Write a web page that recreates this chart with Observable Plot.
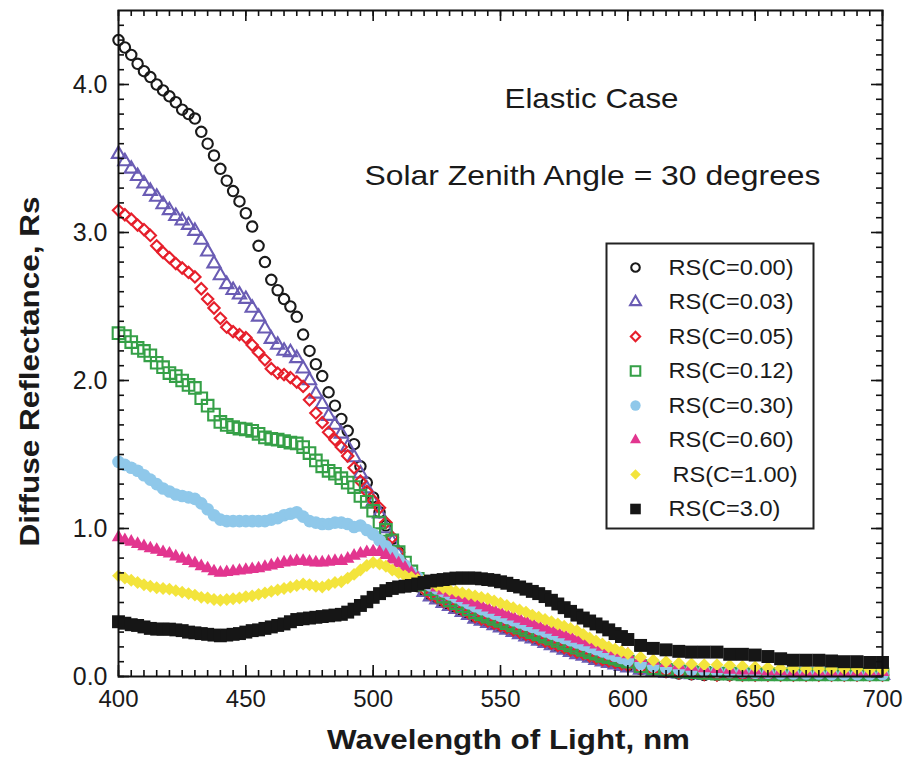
<!DOCTYPE html>
<html>
<head>
<meta charset="utf-8">
<script src="https://cdn.jsdelivr.net/npm/d3@7"></script>
<script src="https://cdn.jsdelivr.net/npm/@observablehq/plot@0.6"></script>
<style>
  body { margin: 0; background: #fff; }
  #chart { width: 911px; height: 761px; }
</style>
</head>
<body>
<div id="chart"></div>
<script>
// ---------------- DATA ----------------
const wavelengths = [
  400, 402.5, 405, 407.5, 410, 412.5, 415, 417.5, 420,
  422.5, 425, 427.5, 430, 432.5, 435, 437.5, 440,
  442.5, 445, 447.5, 450, 452.5, 455, 457.5, 460,
  462.5, 465, 467.5, 470, 472.5, 475, 477.5, 480,
  482.5, 485, 487.5, 490, 492.5, 495, 497.5, 500,
  502.5, 505, 507.5, 510, 512.5, 515, 517.5, 520,
  522.5, 525, 527.5, 530, 532.5, 535, 537.5, 540,
  542.5, 545, 547.5, 550, 552.5, 555, 557.5, 560,
  562.5, 565, 567.5, 570, 572.5, 575, 577.5, 580,
  582.5, 585, 587.5, 590, 592.5, 595, 597.5, 600,
  605, 610, 615, 620, 625, 630, 635, 640, 645, 650,
  655, 660, 665, 670, 675, 680, 685, 690, 695, 700
];

const rsC000 = [
  4.30, 4.25, 4.20, 4.14, 4.09, 4.05, 4.00, 3.96, 3.92,
  3.88, 3.83, 3.80, 3.77, 3.68, 3.60, 3.52, 3.43,
  3.35, 3.28, 3.21, 3.13, 3.04, 2.91, 2.80, 2.68,
  2.61, 2.55, 2.50, 2.43, 2.31, 2.20, 2.11, 2.03,
  1.92, 1.83, 1.74, 1.66, 1.57, 1.42, 1.31, 1.21,
  1.11, 1.02, 0.93, 0.84, 0.74, 0.66, 0.61, 0.58,
  0.55, 0.53, 0.505, 0.485, 0.465, 0.445, 0.425, 0.40,
  0.385, 0.37, 0.355, 0.34, 0.325, 0.31, 0.295, 0.28,
  0.265, 0.25, 0.235, 0.22, 0.205, 0.19, 0.175, 0.16,
  0.15, 0.135, 0.12, 0.11, 0.10, 0.09, 0.08, 0.07,
  0.05, 0.04, 0.03, 0.02, 0.015, 0.01, 0.01, 0.01, 0.01, 0.01,
  0.01, 0.01, 0.01, 0.01, 0.01, 0.01, 0.01, 0.01, 0.01, 0.01
];

const rsC003 = [
  3.53, 3.48, 3.43, 3.38, 3.33, 3.28, 3.24, 3.19, 3.15,
  3.11, 3.08, 3.05, 3.01, 2.95, 2.87, 2.79, 2.71,
  2.65, 2.61, 2.58, 2.55, 2.49, 2.43, 2.35, 2.28,
  2.24, 2.20, 2.19, 2.15, 2.08, 2.00, 1.91, 1.84,
  1.76, 1.70, 1.64, 1.55, 1.48, 1.37, 1.27, 1.18,
  1.10, 1.00, 0.91, 0.82, 0.73, 0.66, 0.61, 0.57,
  0.54, 0.52, 0.495, 0.475, 0.455, 0.435, 0.415, 0.39,
  0.375, 0.36, 0.345, 0.33, 0.315, 0.30, 0.285, 0.27,
  0.255, 0.24, 0.225, 0.21, 0.195, 0.18, 0.165, 0.15,
  0.14, 0.125, 0.11, 0.10, 0.09, 0.08, 0.07, 0.06,
  0.045, 0.035, 0.025, 0.02, 0.015, 0.01, 0.01, 0.01, 0.01, 0.01,
  0.01, 0.01, 0.01, 0.01, 0.01, 0.01, 0.01, 0.01, 0.01, 0.01
];

const rsC005 = [
  3.15, 3.12, 3.09, 3.05, 3.02, 2.98, 2.91, 2.865, 2.83,
  2.79, 2.76, 2.73, 2.70, 2.62, 2.55, 2.49, 2.42,
  2.36, 2.33, 2.31, 2.29, 2.24, 2.19, 2.14, 2.08,
  2.05, 2.04, 2.02, 1.99, 1.96, 1.87, 1.78, 1.715,
  1.65, 1.60, 1.55, 1.49, 1.41, 1.32, 1.25, 1.19,
  1.14, 1.04, 0.94, 0.84, 0.75, 0.67, 0.62, 0.59,
  0.555, 0.535, 0.51, 0.49, 0.47, 0.45, 0.43, 0.405,
  0.39, 0.375, 0.36, 0.345, 0.33, 0.315, 0.30, 0.285,
  0.27, 0.255, 0.24, 0.225, 0.21, 0.195, 0.18, 0.165,
  0.155, 0.14, 0.125, 0.115, 0.105, 0.095, 0.085, 0.075,
  0.055, 0.045, 0.035, 0.025, 0.02, 0.015, 0.01, 0.01, 0.01, 0.01,
  0.01, 0.01, 0.01, 0.01, 0.01, 0.01, 0.01, 0.01, 0.01, 0.01
];

const rsC012 = [
  2.32, 2.30, 2.26, 2.22, 2.20, 2.17, 2.12, 2.09, 2.05,
  2.03, 2.00, 1.97, 1.95, 1.88, 1.83, 1.77, 1.72,
  1.70, 1.685, 1.675, 1.67, 1.66, 1.64, 1.615, 1.605,
  1.60, 1.59, 1.58, 1.575, 1.55, 1.51, 1.46, 1.42,
  1.39, 1.37, 1.34, 1.31, 1.28, 1.22, 1.18, 1.12,
  1.04, 0.99, 0.92, 0.84, 0.77, 0.71, 0.66, 0.62,
  0.59, 0.565, 0.54, 0.515, 0.495, 0.475, 0.455, 0.435,
  0.42, 0.405, 0.39, 0.375, 0.36, 0.345, 0.33, 0.315,
  0.30, 0.285, 0.27, 0.255, 0.24, 0.225, 0.21, 0.195,
  0.18, 0.165, 0.155, 0.14, 0.13, 0.12, 0.11, 0.10,
  0.07, 0.055, 0.045, 0.035, 0.03, 0.025, 0.02, 0.02, 0.015, 0.015,
  0.015, 0.015, 0.015, 0.015, 0.015, 0.015, 0.015, 0.015, 0.015, 0.015
];

const rsC030 = [
  1.45, 1.43, 1.41, 1.39, 1.36, 1.33, 1.30, 1.27, 1.25,
  1.23, 1.22, 1.21, 1.20, 1.17, 1.13, 1.09, 1.06,
  1.05, 1.05, 1.05, 1.05, 1.05, 1.05, 1.05, 1.06,
  1.07, 1.09, 1.10, 1.11, 1.08, 1.05, 1.04, 1.03,
  1.03, 1.04, 1.04, 1.03, 1.01, 1.02, 0.99, 0.96,
  0.92, 0.88, 0.84, 0.79, 0.75, 0.70, 0.67, 0.64,
  0.615, 0.595, 0.575, 0.555, 0.535, 0.515, 0.495, 0.475,
  0.455, 0.44, 0.425, 0.41, 0.395, 0.38, 0.365, 0.35,
  0.335, 0.32, 0.305, 0.29, 0.275, 0.26, 0.245, 0.23,
  0.215, 0.20, 0.185, 0.17, 0.155, 0.14, 0.125, 0.11,
  0.085, 0.07, 0.06, 0.05, 0.045, 0.04, 0.035, 0.03, 0.03, 0.025,
  0.025, 0.02, 0.02, 0.02, 0.02, 0.015, 0.015, 0.015, 0.015, 0.015
];

const rsC060 = [
  0.94, 0.92, 0.91, 0.895, 0.88, 0.865, 0.855, 0.84, 0.83,
  0.81, 0.795, 0.78, 0.765, 0.745, 0.73, 0.71, 0.70,
  0.705, 0.71, 0.715, 0.72, 0.725, 0.73, 0.74, 0.75,
  0.76, 0.77, 0.775, 0.78, 0.78, 0.775, 0.77, 0.77,
  0.775, 0.78, 0.78, 0.795, 0.815, 0.83, 0.84, 0.845,
  0.84, 0.82, 0.79, 0.765, 0.735, 0.70, 0.665, 0.635,
  0.615, 0.60, 0.58, 0.565, 0.55, 0.53, 0.515, 0.50,
  0.48, 0.465, 0.45, 0.435, 0.42, 0.405, 0.39, 0.375,
  0.36, 0.345, 0.33, 0.315, 0.30, 0.285, 0.27, 0.255,
  0.245, 0.23, 0.215, 0.20, 0.185, 0.17, 0.16, 0.15,
  0.125, 0.105, 0.09, 0.075, 0.065, 0.055, 0.05, 0.045, 0.04, 0.04,
  0.035, 0.035, 0.03, 0.03, 0.03, 0.03, 0.03, 0.03, 0.03, 0.03
];

const rsC100 = [
  0.68, 0.665, 0.65, 0.635, 0.62, 0.61, 0.60, 0.595, 0.59,
  0.58, 0.57, 0.56, 0.55, 0.535, 0.53, 0.52, 0.515,
  0.52, 0.525, 0.53, 0.54, 0.545, 0.555, 0.565, 0.575,
  0.585, 0.595, 0.605, 0.615, 0.625, 0.62, 0.61, 0.605,
  0.62, 0.635, 0.64, 0.665, 0.69, 0.72, 0.75, 0.77,
  0.76, 0.745, 0.72, 0.70, 0.68, 0.67, 0.655, 0.645,
  0.63, 0.615, 0.60, 0.585, 0.575, 0.565, 0.555, 0.545,
  0.535, 0.525, 0.51, 0.495, 0.48, 0.465, 0.45, 0.435,
  0.415, 0.40, 0.385, 0.37, 0.355, 0.34, 0.325, 0.31,
  0.285, 0.26, 0.24, 0.22, 0.20, 0.185, 0.17, 0.155,
  0.13, 0.11, 0.10, 0.09, 0.085, 0.08, 0.08, 0.075, 0.07, 0.065,
  0.06, 0.055, 0.055, 0.05, 0.05, 0.05, 0.05, 0.05, 0.045, 0.045
];

const rsC300 = [
  0.37, 0.36, 0.35, 0.345, 0.335, 0.325, 0.32, 0.32, 0.32,
  0.315, 0.31, 0.30, 0.295, 0.29, 0.285, 0.28, 0.275,
  0.28, 0.285, 0.29, 0.30, 0.31, 0.315, 0.325, 0.335,
  0.345, 0.355, 0.37, 0.385, 0.39, 0.395, 0.40, 0.405,
  0.41, 0.415, 0.42, 0.435, 0.455, 0.48, 0.505, 0.535,
  0.56, 0.58, 0.595, 0.605, 0.61, 0.615, 0.625, 0.635,
  0.645, 0.65, 0.655, 0.66, 0.665, 0.665, 0.665, 0.665,
  0.66, 0.655, 0.65, 0.64, 0.63, 0.615, 0.605, 0.59,
  0.575, 0.56, 0.54, 0.515, 0.49, 0.465, 0.44, 0.415,
  0.395, 0.375, 0.355, 0.335, 0.315, 0.29, 0.27, 0.25,
  0.21, 0.19, 0.18, 0.17, 0.165, 0.165, 0.165, 0.15, 0.15, 0.145,
  0.135, 0.12, 0.11, 0.11, 0.11, 0.105, 0.10, 0.10, 0.095, 0.095
];

const seriesNames = ["RS(C=0.00)", "RS(C=0.03)", "RS(C=0.05)", "RS(C=0.12)",
                     "RS(C=0.30)", "RS(C=0.60)", "RS(C=1.00)", "RS(C=3.0)"];
const seriesValues = [rsC000, rsC003, rsC005, rsC012, rsC030, rsC060, rsC100, rsC300];

const xTickLabels = [400, 450, 500, 550, 600, 650, 700];
const yTickLabels = [0, 1, 2, 3, 4];

// ---------------- STYLES ----------------
const seriesStyles = [
  {symbol: "circle",    r: 5.2, stroke: "#1a1a1a", fill: "none",    strokeWidth: 2.1},
  {symbol: "triangle2", r: 6.3, stroke: "#6a5cb4", fill: "none",    strokeWidth: 2.1},
  {symbol: "diamond2",  r: 5.1, stroke: "#e61f2b", fill: "none",    strokeWidth: 2.1},
  {symbol: "square2",   r: 7.4, stroke: "#35a047", fill: "none",    strokeWidth: 2.1},
  {symbol: "circle",    r: 6.3, stroke: "none",    fill: "#8fc8ea", strokeWidth: 0},
  {symbol: "triangle",  r: 5.0, stroke: "none",    fill: "#e2358f", strokeWidth: 0},
  {symbol: "diamond2",  r: 5.8, stroke: "none",    fill: "#f3e43c", strokeWidth: 0},
  {symbol: "square",    r: 7.3, stroke: "none",    fill: "#161616", strokeWidth: 0}
];

// ---------------- LAYOUT ----------------
const W = 911, H = 761;
const mL = 118, mR = 29, mT = 10, mB = 85;
const innerW = W - mL - mR, innerH = H - mT - mB;

const yMinor = d3.range(0, 45).map(i => i / 10);
const xMinor = d3.range(400, 701, 5);
const xMajor = xTickLabels;
const yMajor = yTickLabels;

const tickStyle = {stroke: "#111", strokeWidth: 1.6};
const ink = "#1a1a1a";

const marks = [];

// data
seriesNames.forEach((name, i) => {
  const rows = wavelengths.map((w, j) => ({series: name, wl: w, rs: seriesValues[i][j]}));
  const s = seriesStyles[i];
  marks.push(Plot.dot(rows, {x: "wl", y: "rs", symbol: () => s.symbol, r: s.r,
    stroke: s.stroke, fill: s.fill, strokeWidth: s.strokeWidth}));
});

// inward ticks on all four sides
marks.push(Plot.tickY(yMinor, {y: d => d, insetRight: innerW - 6, ...tickStyle}));
marks.push(Plot.tickY(yMajor, {y: d => d, insetRight: innerW - 11, ...tickStyle}));
marks.push(Plot.tickY(yMinor, {y: d => d, insetLeft: innerW - 6, ...tickStyle}));
marks.push(Plot.tickY(yMajor, {y: d => d, insetLeft: innerW - 11, ...tickStyle}));
marks.push(Plot.tickX(xMinor, {x: d => d, insetTop: innerH - 6, ...tickStyle}));
marks.push(Plot.tickX(xMajor, {x: d => d, insetTop: innerH - 11, ...tickStyle}));
marks.push(Plot.tickX(xMinor, {x: d => d, insetBottom: innerH - 6, ...tickStyle}));
marks.push(Plot.tickX(xMajor, {x: d => d, insetBottom: innerH - 11, ...tickStyle}));

marks.push(Plot.frame({stroke: "#111", strokeWidth: 2}));

// axes labels
marks.push(Plot.axisX({ticks: xTickLabels, tickSize: 0, tickPadding: 13, tickFormat: d => String(d),
  fontSize: 24, label: null, fill: ink}));
marks.push(Plot.axisY({ticks: yTickLabels, tickSize: 0, tickPadding: 11, tickFormat: d => d.toFixed(1),
  fontSize: 25, label: null, fill: ink}));

marks.push(Plot.text(["Wavelength of Light, nm"], {text: d => d, frameAnchor: "bottom",
  textAnchor: "middle", lineAnchor: "middle",
  dx: 8, dy: 64, fontSize: 28, fontWeight: "bold", fill: ink}));
marks.push(Plot.text(["Diffuse Reflectance, Rs"], {text: d => d, frameAnchor: "left",
  textAnchor: "middle", lineAnchor: "middle",
  dx: -88, dy: 28, rotate: -90, fontSize: 28, fontWeight: "bold", fill: ink}));

// annotations
marks.push(Plot.text(["Elastic Case"], {text: d => d, frameAnchor: "top-left",
  textAnchor: "middle", lineAnchor: "middle",
  dx: 591 - mL, dy: 99 - mT, fontSize: 28, fill: ink}));
marks.push(Plot.text(["Solar Zenith Angle = 30 degrees"], {text: d => d, frameAnchor: "top-left",
  textAnchor: "middle", lineAnchor: "middle",
  dx: 592 - mL, dy: 176 - mT, fontSize: 28, fill: ink}));

// legend box
marks.push(Plot.frame({insetLeft: 606 - mL, insetTop: 243 - mT, insetRight: W - mR - 813,
  insetBottom: H - mB - 528, stroke: "#222", strokeWidth: 2, fill: "white"}));
seriesNames.forEach((name, i) => {
  const s = seriesStyles[i];
  const cy = 267 + i * 34.5;
  marks.push(Plot.dot([name], {frameAnchor: "top-left", dx: 635 - mL, dy: cy - mT,
    symbol: () => s.symbol, r: s.r * 0.82, stroke: s.stroke, fill: s.fill, strokeWidth: s.strokeWidth}));
  marks.push(Plot.text([name], {text: d => d, frameAnchor: "top-left", dx: (i === 6 ? 672 : 668) - mL,
    dy: cy - mT, textAnchor: "start", lineAnchor: "middle", fontSize: 22, fill: ink}));
});

const chart = Plot.plot({
  width: W, height: H,
  marginLeft: mL, marginRight: mR, marginTop: mT, marginBottom: mB,
  x: {domain: [400, 700]},
  y: {domain: [0, 4.5]},
  symbol: {type: "identity"},
  style: {fontFamily: "'Liberation Sans', Arial, Helvetica, sans-serif", background: "white", color: ink, overflow: "visible"},
  marks
});
document.getElementById("chart").append(chart);

// horizontal stretch of texts to match the reference widths
const targetWidths = new Map([
  ["Elastic Case", 174],
  ["Solar Zenith Angle = 30 degrees", 456],
  ["Wavelength of Light, nm", 363],
  ["Diffuse Reflectance, Rs", 350]
]);
chart.querySelectorAll("text").forEach(t => {
  const s = t.textContent;
  if (targetWidths.has(s)) {
    t.setAttribute("textLength", targetWidths.get(s));
    t.setAttribute("lengthAdjust", "spacingAndGlyphs");
  } else if (seriesNames.includes(s)) {
    t.setAttribute("textLength", (t.getComputedTextLength() * 1.07).toFixed(1));
    t.setAttribute("lengthAdjust", "spacingAndGlyphs");
  }
});
</script>
</body>
</html>
